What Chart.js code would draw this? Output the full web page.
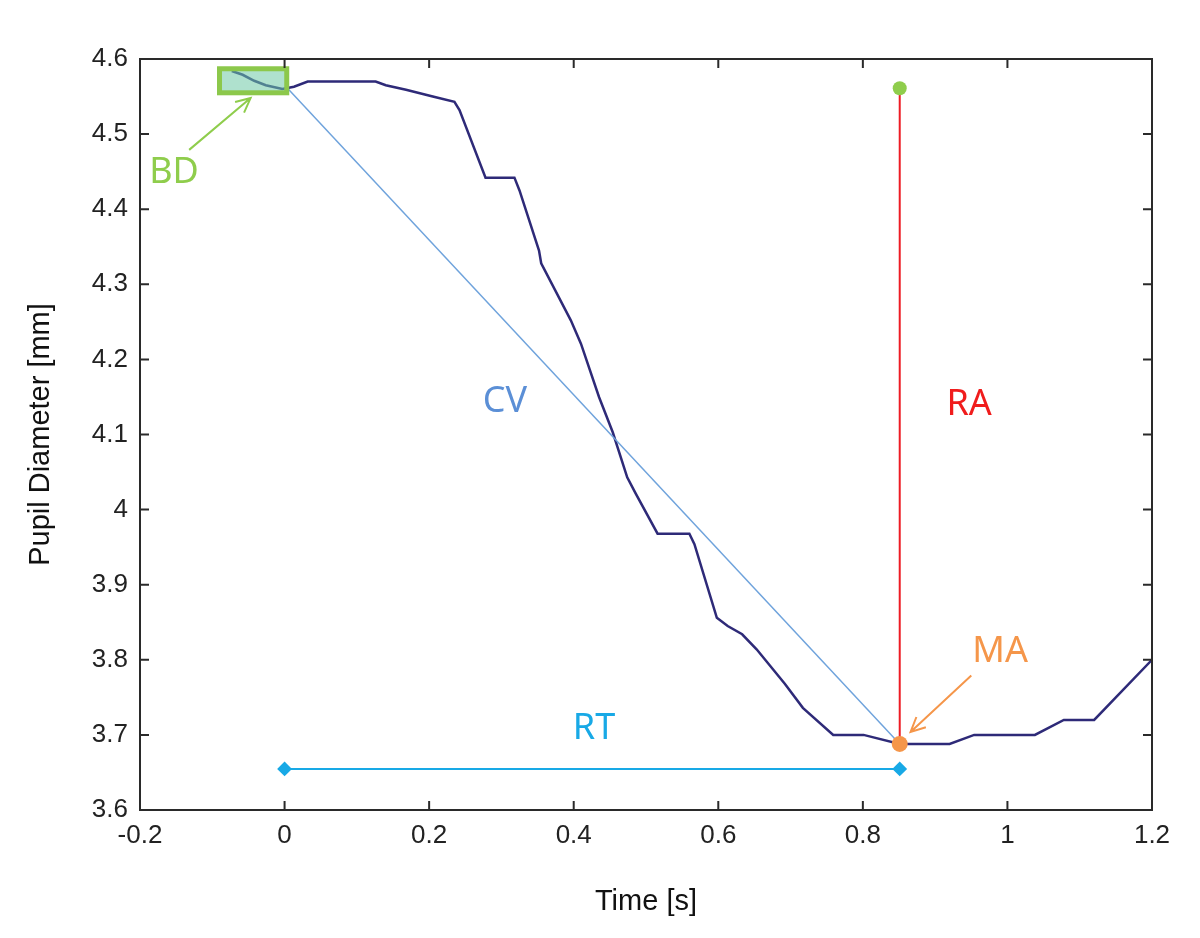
<!DOCTYPE html>
<html>
<head>
<meta charset="utf-8">
<title>Pupil Diameter</title>
<script src="https://cdn.jsdelivr.net/npm/chart.js@4.4.1/dist/chart.umd.min.js"></script>
<style>
  body { margin: 0; background: #fff; }
  #chart { display: block; }
</style>
</head>
<body>
<canvas id="chart" width="1200" height="938"></canvas>
<script>
// pupil trace
const curveTime = [-0.073, -0.058, -0.042, -0.026, -0.003, 0.013, 0.032, 0.126, 0.140, 0.168,
  0.205, 0.235, 0.242, 0.278, 0.318, 0.325, 0.352, 0.355, 0.396, 0.410, 0.435, 0.454, 0.474,
  0.486, 0.516, 0.560, 0.567, 0.598, 0.613, 0.633, 0.653, 0.692, 0.717, 0.759, 0.801, 0.851,
  0.920, 0.954, 1.038, 1.078, 1.120, 1.200];
const curveDiameter = [4.584, 4.579, 4.571, 4.565, 4.560, 4.563, 4.570, 4.570, 4.565, 4.559,
  4.550, 4.543, 4.532, 4.442, 4.442, 4.425, 4.345, 4.328, 4.252, 4.221, 4.150, 4.103, 4.043,
  4.021, 3.968, 3.968, 3.954, 3.856, 3.845, 3.834, 3.814, 3.768, 3.736, 3.700, 3.700, 3.688,
  3.688, 3.700, 3.700, 3.720, 3.720, 3.800];

// markers
const baseline = { time: 0.005, diameter: 4.56 };
const peak = { time: 0.851, diameter: 3.688 };
const raTop = 4.561;
const rtLevel = 3.6547;
const rtStart = 0;
const bdBox = { t0: -0.09, t1: 0.003, d0: 4.555, d1: 4.587 };

// text labels
const labelText = ['BD', 'CV', 'RA', 'MA', 'RT'];
const labelTime = [-0.153, 0.305, 0.947, 0.99, 0.428];
const labelDiameter = [4.449, 4.143, 4.14, 3.811, 3.708];
const labelColor = ['#8fcd4c', '#5b8fd6', '#f01c1c', '#f5964a', '#18a9e6'];

// arrows [tailTime, tailDia, headTime, headDia]
const arrows = [
  { from: [-0.132, 4.479], to: [-0.047, 4.548], color: '#8fcd4c' },
  { from: [0.95, 3.779], to: [0.866, 3.704], color: '#f5964a' }
];

const xTicks = [-0.2, 0, 0.2, 0.4, 0.6, 0.8, 1, 1.2];

const frameColor = '#2a2a2a';

const framePlugin = {
  id: 'frame',
  afterDatasetsDraw(chart) {
    const { ctx, scales: { x, y } } = chart;
    // BD box
    const bx0 = x.getPixelForValue(bdBox.t0), bx1 = x.getPixelForValue(bdBox.t1);
    const by0 = y.getPixelForValue(bdBox.d1), by1 = y.getPixelForValue(bdBox.d0);
    ctx.save();
    ctx.fillStyle = 'rgba(110, 200, 165, 0.55)';
    ctx.fillRect(bx0, by0, bx1 - bx0, by1 - by0);
    ctx.strokeStyle = '#8cc84b';
    ctx.lineWidth = 5;
    ctx.strokeRect(bx0, by0, bx1 - bx0, by1 - by0);

    // arrows
    arrows.forEach(a => {
      const x0 = x.getPixelForValue(a.from[0]), y0 = y.getPixelForValue(a.from[1]);
      const x1 = x.getPixelForValue(a.to[0]), y1 = y.getPixelForValue(a.to[1]);
      const ang = Math.atan2(y1 - y0, x1 - x0);
      ctx.strokeStyle = a.color;
      ctx.lineWidth = 2;
      ctx.beginPath();
      ctx.moveTo(x0, y0);
      ctx.lineTo(x1, y1);
      ctx.moveTo(x1 - 16 * Math.cos(ang - 0.45), y1 - 16 * Math.sin(ang - 0.45));
      ctx.lineTo(x1, y1);
      ctx.lineTo(x1 - 16 * Math.cos(ang + 0.45), y1 - 16 * Math.sin(ang + 0.45));
      ctx.stroke();
    });

    // labels
    ctx.font = '36px "Noto Sans"';
    ctx.textAlign = 'center';
    ctx.textBaseline = 'middle';
    labelText.forEach((t, i) => {
      ctx.fillStyle = labelColor[i];
      ctx.fillText(t, x.getPixelForValue(labelTime[i]), y.getPixelForValue(labelDiameter[i]));
    });
    ctx.restore();
  },
  afterDraw(chart) {
    const { ctx, chartArea: a, scales: { x, y } } = chart;
    ctx.save();
    ctx.strokeStyle = frameColor;
    ctx.lineWidth = 2;
    ctx.strokeRect(a.left, a.top, a.right - a.left, a.bottom - a.top);
    ctx.beginPath();
    x.ticks.forEach(t => {
      const px = x.getPixelForValue(t.value);
      ctx.moveTo(px, a.bottom); ctx.lineTo(px, a.bottom - 9);
      ctx.moveTo(px, a.top); ctx.lineTo(px, a.top + 9);
    });
    y.ticks.forEach(t => {
      const py = y.getPixelForValue(t.value);
      ctx.moveTo(a.left, py); ctx.lineTo(a.left + 9, py);
      ctx.moveTo(a.right, py); ctx.lineTo(a.right - 9, py);
    });
    ctx.stroke();
    ctx.restore();
  }
};

const tickFont = { family: '"Liberation Sans", Arial, sans-serif', size: 26 };
const titleFont = { family: '"Liberation Sans", Arial, sans-serif', size: 29 };
const fmt = v => String(Number(Number(v).toFixed(1)));

new Chart(document.getElementById('chart'), {
  type: 'scatter',
  data: {
    datasets: [
      {
        label: 'MA',
        data: [{ x: peak.time, y: peak.diameter }],
        backgroundColor: '#f5964a',
        borderWidth: 0,
        pointRadius: 8,
        order: 0
      },
      {
        label: 'RA top',
        data: [{ x: peak.time, y: raTop }],
        backgroundColor: '#8fcd4c',
        borderWidth: 0,
        pointRadius: 7,
        order: 0
      },
      {
        label: 'RA',
        data: [{ x: peak.time, y: peak.diameter }, { x: peak.time, y: raTop }],
        showLine: true,
        borderColor: '#ee1c24',
        borderWidth: 2,
        pointRadius: 0,
        order: 1
      },
      {
        label: 'RT',
        data: [{ x: rtStart, y: rtLevel }, { x: peak.time, y: rtLevel }],
        showLine: true,
        borderColor: '#18a9e6',
        backgroundColor: '#18a9e6',
        borderWidth: 2,
        pointStyle: 'rectRot',
        pointRadius: 6,
        order: 1
      },
      {
        label: 'CV',
        data: [{ x: baseline.time, y: baseline.diameter }, { x: peak.time, y: peak.diameter }],
        showLine: true,
        borderColor: '#6fa3dc',
        borderWidth: 1.5,
        pointRadius: 0,
        order: 1
      },
      {
        label: 'Pupil',
        data: curveTime.map((t, i) => ({ x: t, y: curveDiameter[i] })),
        showLine: true,
        borderColor: '#2e2a78',
        borderWidth: 2.5,
        pointRadius: 0,
        order: 2
      }
    ]
  },
  options: {
    responsive: false,
    devicePixelRatio: 1,
    animation: false,
    layout: { padding: { left: 0, top: 59, right: 48, bottom: 0 } },
    plugins: { legend: { display: false }, tooltip: { enabled: false } },
    scales: {
      x: {
        type: 'linear',
        min: -0.2,
        max: 1.2,
        afterBuildTicks: s => { s.ticks = xTicks.map(v => ({ value: v })); },
        afterFit: s => { s.height = 128; },
        grid: { display: false, drawTicks: false },
        border: { display: false },
        ticks: { font: tickFont, color: '#222', padding: 10, callback: fmt, maxRotation: 0 },
        title: { display: true, text: 'Time [s]', font: titleFont, color: '#111', padding: { top: 0, bottom: 19 } }
      },
      y: {
        min: 3.6,
        max: 4.6,
        afterFit: s => { s.width = 140; },
        grid: { display: false, drawTicks: false },
        border: { display: false },
        ticks: { stepSize: 0.1, font: tickFont, color: '#222', padding: 12, callback: fmt },
        title: { display: true, text: 'Pupil Diameter [mm]', font: titleFont, color: '#111', padding: { top: 24, bottom: 0 } }
      }
    }
  },
  plugins: [framePlugin]
});
</script>
</body>
</html>
